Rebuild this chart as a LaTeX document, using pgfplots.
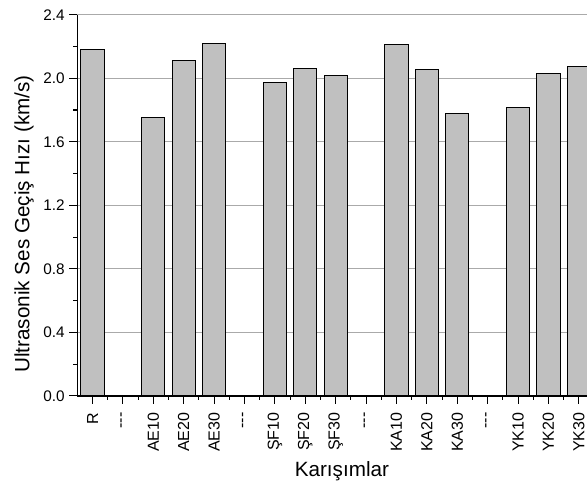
\documentclass[border=0pt]{standalone}
\usepackage{pgfplots}
\pgfplotsset{compat=1.18}
\usepackage{fontspec}
\setmainfont{Liberation Sans}
\definecolor{barfill}{RGB}{192,192,192}
\definecolor{gridc}{RGB}{170,170,170}
\begin{document}
\begin{tikzpicture}
\useasboundingbox (-58pt,-67.5pt) rectangle (382.3pt,297pt);
\clip (-58pt,-67.5pt) rectangle (382.3pt,297pt);
\begin{axis}[
  at={(0,0)}, anchor=south west,
  scale only axis,
  width=387.6pt, height=286pt,
  xmin=-0.5, xmax=16.5,
  ymin=0, ymax=2.4,
  axis x line*=bottom, axis y line*=left,
  axis line style={line width=1pt},
  xtick={0,...,16},
  xticklabels={R,-{}-{}-,AE10,AE20,AE30,-{}-{}-,ŞF10,ŞF20,ŞF30,-{}-{}-,KA10,KA20,KA30,-{}-{}-,YK10,YK20,YK30},
  minor x tick num=1,
  ytick={0,0.4,...,2.41},
  minor y tick num=1,
  tick align=outside,
  major tick length=6pt,
  minor tick length=3pt,
  every tick/.style={black, line width=0.8pt},
  yticklabel style={font=\fontsize{11.5}{13}\selectfont, /pgf/number format/fixed, /pgf/number format/precision=1, /pgf/number format/fixed zerofill},
  /pgf/number format/assume math mode=true,
  xticklabel style={font=\fontsize{12}{14}\selectfont, yshift=-3pt, rotate=90, anchor=east},
  ymajorgrids,
  grid style={gridc, line width=0.8pt},
  ylabel={Ultrasonik Ses Geçiş Hızı (km/s)},
  xlabel={Karışımlar},
  label style={font=\fontsize{15.5}{18}\selectfont},
  ylabel style={at={(axis description cs:-0.1032,0.451)}, anchor=center},
  xlabel style={at={(axis description cs:0.512,-0.21)}, anchor=base},
]
\addplot[ybar, bar width=17.5pt, fill=barfill, draw=black, line width=0.75pt] coordinates {
 (0,2.182) (2,1.752) (3,2.113) (4,2.217)
 (6,1.974) (7,2.060) (8,2.016)
 (10,2.214) (11,2.056) (12,1.777)
 (14,1.813) (15,2.029) (16,2.075)
};
\end{axis}
\end{tikzpicture}
\end{document}
